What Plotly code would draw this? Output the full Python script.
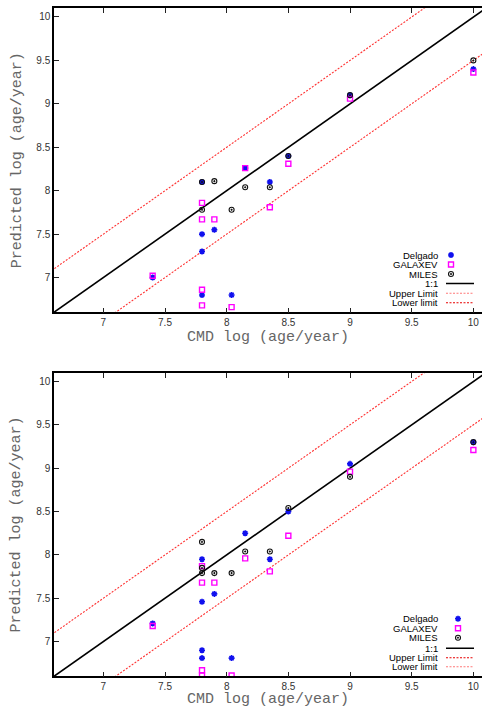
import plotly.graph_objects as go

W, H = 482, 711

# ---------------- data ----------------
top_delgado_x = [7.8, 8.15, 8.35, 7.8, 7.9, 7.8, 7.4, 7.8, 8.04, 9.0, 10.0, 8.5]
top_delgado_y = [8.10, 8.26, 8.10, 7.50, 7.55, 7.30, 7.00, 6.80, 6.80, 9.10, 9.40, 8.40]
top_galaxev_x = [8.15, 8.5, 7.8, 7.8, 7.9, 8.35, 7.4, 7.8, 7.8, 8.04, 9.0, 10.0]
top_galaxev_y = [8.26, 8.31, 7.86, 7.67, 7.67, 7.81, 7.02, 6.86, 6.68, 6.66, 9.06, 9.36]
top_miles_x = [7.8, 7.9, 8.15, 8.35, 7.8, 8.04, 9.0, 8.5, 10.0]
top_miles_y = [8.10, 8.11, 8.04, 8.04, 7.78, 7.78, 9.10, 8.40, 9.50]

bot_delgado_x = [8.5, 8.15, 7.8, 8.35, 7.9, 7.8, 7.4, 7.8, 7.8, 8.04, 9.0, 10.0]
bot_delgado_y = [8.50, 8.25, 7.95, 7.95, 7.55, 7.46, 7.21, 6.90, 6.81, 6.81, 9.05, 9.30]
bot_galaxev_x = [8.5, 8.15, 7.8, 8.35, 7.8, 7.9, 7.4, 7.8, 7.8, 8.04, 9.0, 10.0]
bot_galaxev_y = [8.22, 7.96, 7.87, 7.81, 7.68, 7.68, 7.18, 6.67, 6.61, 6.61, 8.96, 9.21]
bot_miles_x = [8.5, 7.8, 8.15, 8.35, 7.8, 7.8, 7.9, 8.04, 9.0, 10.0]
bot_miles_y = [8.54, 8.15, 8.04, 8.04, 7.85, 7.79, 7.79, 7.79, 8.90, 9.30]

line_x = [6.0, 10.6]
limit_offset = 0.5

x_ticks = [7, 7.5, 8, 8.5, 9, 9.5, 10]
x_ticklabels = ["7", "7.5", "8", "8.5", "9", "9.5", "10"]
y_ticks = [7, 7.5, 8, 8.5, 9, 9.5, 10]
y_ticklabels = ["7", "7.5", "8", "8.5", "9", "9.5", "10"]

legend_labels = ["Delgado", "GALAXEV", "MILES", "1:1", "Upper Limit", "Lower limit"]
xlabel = "CMD log (age/year)"
ylabel = "Predicted log (age/year)"

# ---------------- styles ----------------
BLUE = "#1010ee"
MAG = "#ff00ff"
RED = "#ff3030"
RED_LIGHT = "#ff7a7a"
RED_DARK = "#e80000"

mk_del = dict(symbol="asterisk-open", size=5, line=dict(color=BLUE, width=1.6), color=BLUE)
mk_gal = dict(symbol="square-open", size=5, line=dict(color=MAG, width=1.4), color=MAG)
mk_mil = dict(symbol="circle-open-dot", size=5, line=dict(color="#111", width=1.1), color="#111")

X0, X1 = 6.6, 10.07
Y0, Y1 = 6.6, 10.1
PX_L, PX_R = 54, 482

fig = go.Figure()


def px2fx(px):
    return px / W


def py2fy(py):
    return 1 - py / H


panels = [
    dict(xa="x", ya="y", top=8.3, bot=312.3, xt=337,
         d=(top_delgado_x, top_delgado_y), g=(top_galaxev_x, top_galaxev_y), m=(top_miles_x, top_miles_y),
         rows=[255, 264.5, 274, 283.5, 293.3, 302.7], mx=451, upper=RED_LIGHT, lower=RED_DARK),
    dict(xa="x2", ya="y2", top=372.8, bot=676.3, xt=699,
         d=(bot_delgado_x, bot_delgado_y), g=(bot_galaxev_x, bot_galaxev_y), m=(bot_miles_x, bot_miles_y),
         rows=[618.7, 628.3, 637.7, 648.3, 657.7, 666.7], mx=458, upper=RED_DARK, lower=RED_LIGHT),
]

shapes = []
annotations = []
tickfont = dict(family="Liberation Sans, Arial, sans-serif", size=10, color="#333")
title_font = dict(family="Liberation Mono, Courier New, monospace", size=15, color="#666")
leg_font = dict(family="Liberation Sans, Arial, sans-serif", size=9.5, color="black")

for p in panels:
    def dx(px, p=p):
        return X0 + (px - PX_L) / (PX_R - PX_L) * (X1 - X0)

    def dy(py, p=p):
        return Y0 + (p["bot"] - py) / (p["bot"] - p["top"]) * (Y1 - Y0)

    lx = line_x
    fig.add_trace(go.Scatter(x=lx, y=[v for v in lx], mode="lines", line=dict(color="black", width=1.6),
                             xaxis=p["xa"], yaxis=p["ya"], showlegend=False))
    fig.add_trace(go.Scatter(x=lx, y=[v + limit_offset for v in lx], mode="lines",
                             line=dict(color=RED, width=1.1, dash="2px,1.5px"),
                             xaxis=p["xa"], yaxis=p["ya"], showlegend=False))
    fig.add_trace(go.Scatter(x=lx, y=[v - limit_offset for v in lx], mode="lines",
                             line=dict(color=RED, width=1.1, dash="2px,1.5px"),
                             xaxis=p["xa"], yaxis=p["ya"], showlegend=False))
    fig.add_trace(go.Scatter(x=p["d"][0], y=p["d"][1], mode="markers", marker=mk_del,
                             xaxis=p["xa"], yaxis=p["ya"], showlegend=False))
    fig.add_trace(go.Scatter(x=p["g"][0], y=p["g"][1], mode="markers", marker=mk_gal,
                             xaxis=p["xa"], yaxis=p["ya"], showlegend=False))
    fig.add_trace(go.Scatter(x=p["m"][0], y=p["m"][1], mode="markers", marker=mk_mil,
                             xaxis=p["xa"], yaxis=p["ya"], showlegend=False))

    r = p["rows"]
    for lab, yy in zip(legend_labels, r):
        annotations.append(dict(text=lab, x=px2fx(440), y=py2fy(yy), xref="paper", yref="paper",
                                showarrow=False, font=leg_font, xanchor="right", yanchor="middle"))
    for mk, yy in [(mk_del, r[0]), (mk_gal, r[1]), (mk_mil, r[2])]:
        fig.add_trace(go.Scatter(x=[dx(p["mx"])], y=[dy(yy)], mode="markers", marker=mk,
                                 xaxis=p["xa"], yaxis=p["ya"], showlegend=False))
    xr, yr = p["xa"], p["ya"]
    shapes.append(dict(type="line", xref=xr, yref=yr, x0=dx(446), x1=dx(474), y0=dy(r[3]), y1=dy(r[3]),
                       line=dict(color="black", width=1.6)))
    shapes.append(dict(type="line", xref=xr, yref=yr, x0=dx(446), x1=dx(474), y0=dy(r[4]), y1=dy(r[4]),
                       line=dict(color=p["upper"], width=1.1, dash="2px,1.5px")))
    shapes.append(dict(type="line", xref=xr, yref=yr, x0=dx(446), x1=dx(474), y0=dy(r[5]), y1=dy(r[5]),
                       line=dict(color=p["lower"], width=1.1, dash="2px,1.5px")))

    annotations.append(dict(text=xlabel, x=px2fx(268), y=py2fy(p["xt"]), xref="paper", yref="paper",
                            showarrow=False, font=title_font, xanchor="center", yanchor="middle"))
    annotations.append(dict(text=ylabel, x=px2fx(17), y=py2fy((p["top"] + p["bot"]) / 2), xref="paper",
                            yref="paper", showarrow=False, font=title_font, textangle=-90,
                            xanchor="center", yanchor="middle"))

common_x = dict(range=[X0, X1], domain=[px2fx(PX_L), 1], tickvals=x_ticks, ticktext=x_ticklabels,
                ticks="inside", ticklen=5, tickwidth=1, tickcolor="#222", showline=True, linecolor="black",
                linewidth=1.5, mirror="ticks", showgrid=False, zeroline=False, tickfont=tickfont)
common_y = dict(range=[Y0, Y1], tickvals=y_ticks, ticktext=y_ticklabels,
                ticks="inside", ticklen=5, tickwidth=1, tickcolor="#222", showline=True, linecolor="black",
                linewidth=1.5, mirror=False, showgrid=False, zeroline=False, tickfont=tickfont)

layout = dict(width=W, height=H, margin=dict(l=0, r=0, t=0, b=0),
              paper_bgcolor="white", plot_bgcolor="white", showlegend=False)
layout["xaxis"] = dict(common_x, anchor="y")
layout["yaxis"] = dict(common_y, anchor="x", domain=[py2fy(312.3), py2fy(8.3)])
layout["xaxis2"] = dict(common_x, anchor="y2")
layout["yaxis2"] = dict(common_y, anchor="x2", domain=[py2fy(676.3), py2fy(372.8)])
fig.update_layout(**layout)
fig.update_layout(annotations=annotations, shapes=shapes)
fig.write_html("out.html", config={"displayModeBar": False},
               post_script="document.body.style.margin='0';document.body.style.overflow='hidden';")
